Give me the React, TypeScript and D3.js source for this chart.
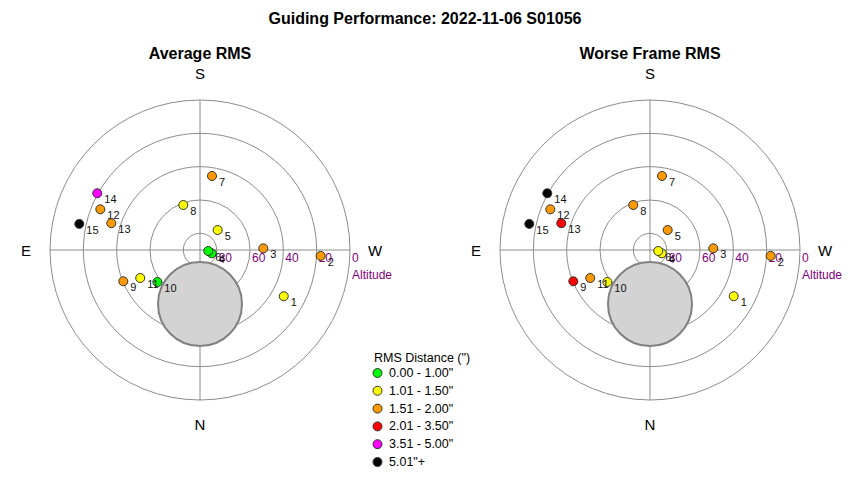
import React from 'react';
import * as d3 from 'd3';

// frame positions on the sky (altitude / azimuth in degrees, az from N through E)
const frames = ['1', '2', '3', '4', '5', '6', '7', '8', '9', '10', '11', '12', '13', '14', '15'];
const altitude = [32.6, 17.5, 52.0, 82.7, 74.0, 85.0, 45.0, 61.2, 40.3, 58.0, 50.4, 25.4, 34.4, 19.6, 15.9];
const azimuth = [298.9, 272.8, 268.5, 285.8, 221.5, 276.9, 189.2, 159.6, 67.8, 53.1, 64.9, 112.2, 106.8, 118.9, 102.2];

// RMS bin index per frame (index into rmsBins)
const avgBin = [1, 2, 2, 0, 1, 0, 2, 1, 2, 0, 1, 2, 2, 4, 5];
const worstBin = [1, 2, 2, 1, 2, 1, 2, 2, 3, 1, 2, 2, 3, 5, 5];

const rmsBins = ['0.00 - 1.00"', '1.01 - 1.50"', '1.51 - 2.00"', '2.01 - 3.50"', '3.51 - 5.00"', '5.01"+'];
const binColors = ['#00ff00', '#ffff00', '#ff9900', '#ff0000', '#ff00ff', '#000000'];

const altTicks = [80, 60, 40, 20, 0];

// grey exclusion disc (centre alt/az, radius in degrees)
const zoneAlt = 57.6;
const zoneAz = 0;
const zoneRadius = 25.2;

const font = '"Liberation Sans", Arial, sans-serif';
const R = 150;

const rScale = d3.scaleLinear().domain([90, 0]).range([0, R]);
const color = d3.scaleOrdinal<number, string>().domain(d3.range(rmsBins.length)).range(binColors);

const project = (alt: number, az: number) => {
  const r = rScale(alt);
  const a = (az * Math.PI) / 180;
  return [-r * Math.sin(a), r * Math.cos(a)];
};

const Polar: React.FC<{ cx: number; cy: number; title: string; bins: number[] }> = ({ cx, cy, title, bins }) => {
  const [zx, zy] = project(zoneAlt, zoneAz);
  const zr = rScale(90 - zoneRadius);
  return (
    <g transform={`translate(${cx},${cy})`} fontFamily={font}>
      <text y={-191} textAnchor="middle" fontSize={16} fontWeight="bold">{title}</text>
      {altTicks.map((t) => (
        <circle key={t} r={rScale(t)} fill="none" stroke="#8c8c8c" strokeWidth={1} />
      ))}
      <line x1={-R} x2={R} stroke="#8c8c8c" />
      <line y1={-R} y2={R} stroke="#8c8c8c" />
      <circle cx={zx} cy={zy} r={zr} fill="#d3d3d3" stroke="#808080" strokeWidth={2} />
      {altTicks.map((t) => (
        <text key={t} x={rScale(t) + 2} y={12} fontSize={12} fill="#800080">{t}</text>
      ))}
      <text x={R + 2} y={29} fontSize={12} fill="#800080">Altitude</text>
      <text y={-R - 21} textAnchor="middle" fontSize={15}>S</text>
      <text y={R + 30} textAnchor="middle" fontSize={15}>N</text>
      <text x={-R - 24} y={6} textAnchor="middle" fontSize={15}>E</text>
      <text x={R + 25} y={6} textAnchor="middle" fontSize={15}>W</text>
      {frames.map((f, i) => {
        const [x, y] = project(altitude[i], azimuth[i]);
        return (
          <g key={f}>
            <circle cx={x} cy={y} r={4.5} fill={color(bins[i])} stroke="#333" strokeWidth={1} />
            <text x={x + 7} y={y + 10} fontSize={11} fill="#111">{f}</text>
          </g>
        );
      })}
    </g>
  );
};

export default function App() {
  return (
    <svg width={850} height={480} style={{ position: 'absolute', left: 0, top: 0, background: '#fff' }}>
      <text x={425} y={24} textAnchor="middle" fontFamily={font} fontSize={16} fontWeight="bold">
        Guiding Performance: 2022-11-06 S01056
      </text>
      <Polar cx={200} cy={250} title="Average RMS" bins={avgBin} />
      <Polar cx={650} cy={250} title="Worse Frame RMS" bins={worstBin} />
      <g fontFamily={font} fontSize={12.5}>
        <text x={374} y={362}>RMS Distance (")</text>
        {rmsBins.map((b, i) => (
          <g key={b} transform={`translate(0,${373 + i * 17.8})`}>
            <circle cx={377.5} r={4.5} fill={color(i)} stroke="#333" />
            <text x={389} y={4}>{b}</text>
          </g>
        ))}
      </g>
    </svg>
  );
}
